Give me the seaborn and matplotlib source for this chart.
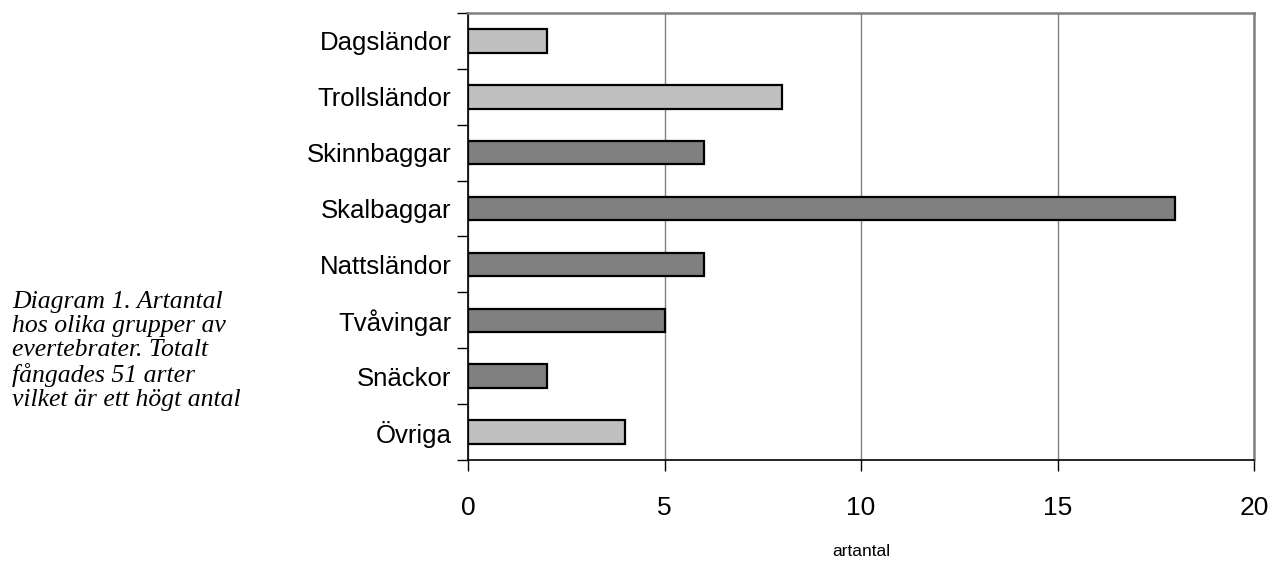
import pandas as pd
import matplotlib
matplotlib.use("Agg")
import matplotlib.pyplot as plt
import seaborn as sns

groups = ["Dagsländor", "Trollsländor", "Skinnbaggar", "Skalbaggar",
          "Nattsländor", "Tvåvingar", "Snäckor", "Övriga"]
counts = [2, 8, 6, 18, 6, 5, 2, 4]
shades = ["#C0C0C0", "#C0C0C0", "#808080", "#808080",
          "#808080", "#808080", "#808080", "#C0C0C0"]
x_ticks = [0, 5, 10, 15, 20]
caption = ("Diagram 1. Artantal\nhos olika grupper av\nevertebrater. Totalt\n"
           "fångades 51 arter\nvilket är ett högt antal")

df = pd.DataFrame({"grupp": groups, "artantal": counts})

sns.set_theme(style="white")
plt.rcParams["font.family"] = ["Liberation Sans", "DejaVu Sans"]
plt.rcParams["text.color"] = "black"
plt.rcParams["xtick.color"] = "black"
plt.rcParams["ytick.color"] = "black"
plt.rcParams["axes.labelcolor"] = "black"

fig = plt.figure(figsize=(12.77, 5.64), dpi=100)
ax = fig.add_axes([0.3665, 0.1844, 0.6155, 0.7926])

sns.barplot(data=df, y="grupp", x="artantal", hue="grupp", palette=shades,
            legend=False, width=0.42, edgecolor="black", linewidth=1.6,
            saturation=1, ax=ax, zorder=3)

ax.set_xlim(0, 20)
ax.set_ylim(7.5, -0.5)
ax.set_xticks(x_ticks)
ax.set_xticklabels([str(t) for t in x_ticks], fontsize=19)
ax.xaxis.grid(True, color="#808080", linewidth=1.0, zorder=0)
ax.set_axisbelow(True)

# category ticks sit between bars
ax.set_yticks([i - 0.5 for i in range(len(groups) + 1)], minor=False)
ax.set_yticklabels([])
ax.set_yticks(range(len(groups)), minor=True)
ax.set_yticklabels(groups, minor=True, fontsize=18.5)
ax.tick_params(axis="y", which="major", direction="out", length=8, width=1,
               color="black", left=True)
ax.tick_params(axis="y", which="minor", length=0, pad=12)
ax.tick_params(axis="x", direction="out", length=8, width=1, color="black",
               bottom=True, pad=18)

for side in ["left", "bottom"]:
    ax.spines[side].set_color("black")
    ax.spines[side].set_linewidth(1.2)
for side in ["top", "right"]:
    ax.spines[side].set_color("#808080")
    ax.spines[side].set_linewidth(1.8)

ax.set_ylabel("")
ax.set_xlabel("artantal", fontsize=12.5, labelpad=17)

fig.text(0.0095, 0.378, caption, fontsize=18.5, style="italic",
         family=["Liberation Serif", "DejaVu Serif"], va="center", ha="left",
         linespacing=1.12)

fig.savefig("out.png", dpi=100)
